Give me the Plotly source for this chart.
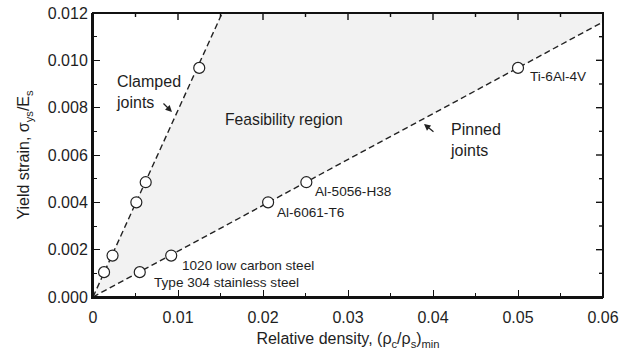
import plotly.graph_objects as go

# ---- data ----
materials = ["Type 304 stainless steel", "1020 low carbon steel", "Al-6061-T6", "Al-5056-H38", "Ti-6Al-4V"]
yield_strain = [0.00105, 0.00175, 0.0040, 0.00485, 0.00968]
clamped_density = [0.0013, 0.0023, 0.0051, 0.0062, 0.0125]
pinned_density = [0.0055, 0.0092, 0.0206, 0.0251, 0.0500]

clamped_line_x = [0.0, 0.0152]
clamped_line_y = [0.0, 0.012]
pinned_line_x = [0.0, 0.06]
pinned_line_y = [0.0, 0.01162]

# label anchor positions (data units)
label_x = [0.00694, 0.01024, 0.02141, 0.02588, 0.0512]
label_y = [0.00063, 0.00135, 0.00359, 0.00444, 0.0093]

x_range = [0, 0.06]
y_range = [0, 0.012]
x_tickvals = [0, 0.01, 0.02, 0.03, 0.04, 0.05, 0.06]
x_ticktext = ["0", "0.01", "0.02", "0.03", "0.04", "0.05", "0.06"]
x_minorvals = [0.005, 0.015, 0.025, 0.035, 0.045, 0.055]
y_tickvals = [0, 0.002, 0.004, 0.006, 0.008, 0.010, 0.012]
y_ticktext = ["0.000", "0.002", "0.004", "0.006", "0.008", "0.010", "0.012"]
y_minorvals = [0.001, 0.003, 0.005, 0.007, 0.009, 0.011]

FONT = "Liberation Sans, Arial, sans-serif"
TXT = "#1e1e1e"
AX = "#111111"

W, H = 631, 354
M = dict(l=93, r=28, t=13, b=57)
plot_w = W - M["l"] - M["r"]
plot_h = H - M["t"] - M["b"]
dx_per_px = (x_range[1] - x_range[0]) / plot_w
dy_per_px = (y_range[1] - y_range[0]) / plot_h
MAJOR_LEN, MINOR_LEN = 7, 4

fig = go.Figure()

# feasibility region
fig.add_trace(go.Scatter(
    x=[pinned_line_x[0], pinned_line_x[1], pinned_line_x[1], clamped_line_x[1], clamped_line_x[0]],
    y=[pinned_line_y[0], pinned_line_y[1], clamped_line_y[1], clamped_line_y[1], clamped_line_y[0]],
    fill="toself", fillcolor="#f2f2f2", line=dict(width=0), mode="lines",
    hoverinfo="skip", showlegend=False))

# dashed lines
for lx, ly in [(clamped_line_x, clamped_line_y), (pinned_line_x, pinned_line_y)]:
    fig.add_trace(go.Scatter(x=lx, y=ly, mode="lines",
                             line=dict(color="#222222", width=1.4, dash="6px,3.5px"),
                             showlegend=False, hoverinfo="skip"))

# top / right mirrored ticks built from the tick arrays
tx, ty = [], []
for vals, ln in [(x_tickvals, MAJOR_LEN), (x_minorvals, MINOR_LEN)]:
    for v in vals:
        tx += [v, v, None]
        ty += [y_range[1], y_range[1] - ln * dy_per_px, None]
for vals, ln in [(y_tickvals, MAJOR_LEN), (y_minorvals, MINOR_LEN)]:
    for v in vals:
        tx += [x_range[1], x_range[1] - ln * dx_per_px, None]
        ty += [v, v, None]
fig.add_trace(go.Scatter(x=tx, y=ty, mode="lines", line=dict(color=AX, width=1.4),
                         showlegend=False, hoverinfo="skip"))

# markers
marker = dict(symbol="circle", size=11, color="white", line=dict(color="#222222", width=1.2))
fig.add_trace(go.Scatter(x=clamped_density, y=yield_strain, mode="markers",
                         marker=marker, showlegend=False, cliponaxis=False))
fig.add_trace(go.Scatter(x=pinned_density, y=yield_strain, mode="markers",
                         marker=marker, showlegend=False, cliponaxis=False))

# frame
fig.add_shape(type="rect", xref="paper", yref="paper", x0=0, x1=1, y0=0, y1=1,
              line=dict(color=AX, width=2), fillcolor="rgba(0,0,0,0)", layer="above")

# material labels
for name, lx, ly in zip(materials, label_x, label_y):
    fig.add_annotation(x=lx, y=ly, text=name, showarrow=False, xanchor="left", yanchor="middle",
                       font=dict(family=FONT, size=13.6, color=TXT))

fig.add_annotation(x=0.0225, y=0.00748, text="Feasibility region", showarrow=False,
                   xanchor="center", yanchor="middle", font=dict(family=FONT, size=15.7, color=TXT))
fig.add_annotation(x=0.00247, y=0.00866, text="Clamped<br>joints", showarrow=False, align="left",
                   xanchor="left", yanchor="middle", font=dict(family=FONT, size=16, color=TXT))
fig.add_annotation(x=0.04176, y=0.00663, text="Pinned<br>joints", showarrow=False, align="left",
                   xanchor="left", yanchor="middle", font=dict(family=FONT, size=16, color=TXT))

# arrows
fig.add_annotation(x=0.00929, y=0.00782, ax=-10, ay=-10, text="", showarrow=True,
                   arrowhead=2, arrowsize=1, arrowwidth=1.3, arrowcolor="#222222", standoff=0)
fig.add_annotation(x=0.03894, y=0.00731, ax=11, ay=9, text="", showarrow=True,
                   arrowhead=2, arrowsize=1, arrowwidth=1.3, arrowcolor="#222222", standoff=0)

axis_common = dict(showgrid=False, zeroline=False, showline=True, linecolor=AX, linewidth=2,
                   automargin=False, ticks="inside", ticklen=MAJOR_LEN, tickwidth=1.4, tickcolor=AX,
                   tickfont=dict(family=FONT, size=16, color=TXT))

fig.update_layout(
    template="none",
    xaxis=dict(range=x_range, tickvals=x_tickvals, ticktext=x_ticktext,
               minor=dict(ticks="inside", ticklen=MINOR_LEN, tickwidth=1.3, tickcolor=AX,
                          tickvals=x_minorvals),
               ticklabelstandoff=5,
               title=dict(text="Relative density, (ρ<sub>c</sub>/ρ<sub>s</sub>)<sub>min</sub>",
                          font=dict(family=FONT, size=16, color=TXT), standoff=8),
               **axis_common),
    yaxis=dict(range=y_range, tickvals=y_tickvals, ticktext=y_ticktext,
               minor=dict(ticks="inside", ticklen=MINOR_LEN, tickwidth=1.3, tickcolor=AX,
                          tickvals=y_minorvals),
               title=dict(text="Yield strain, σ<sub>ys</sub>/E<sub>s</sub>",
                          font=dict(family=FONT, size=16, color=TXT), standoff=14),
               **axis_common),
    font=dict(family=FONT, color=TXT),
    width=W, height=H, margin=M,
    plot_bgcolor="white", paper_bgcolor="white", showlegend=False)

fig.write_html("out.html", config={"displayModeBar": False},
               post_script="document.body.style.margin='0';document.body.style.padding='0';"
                           "document.documentElement.style.overflow='hidden';")
